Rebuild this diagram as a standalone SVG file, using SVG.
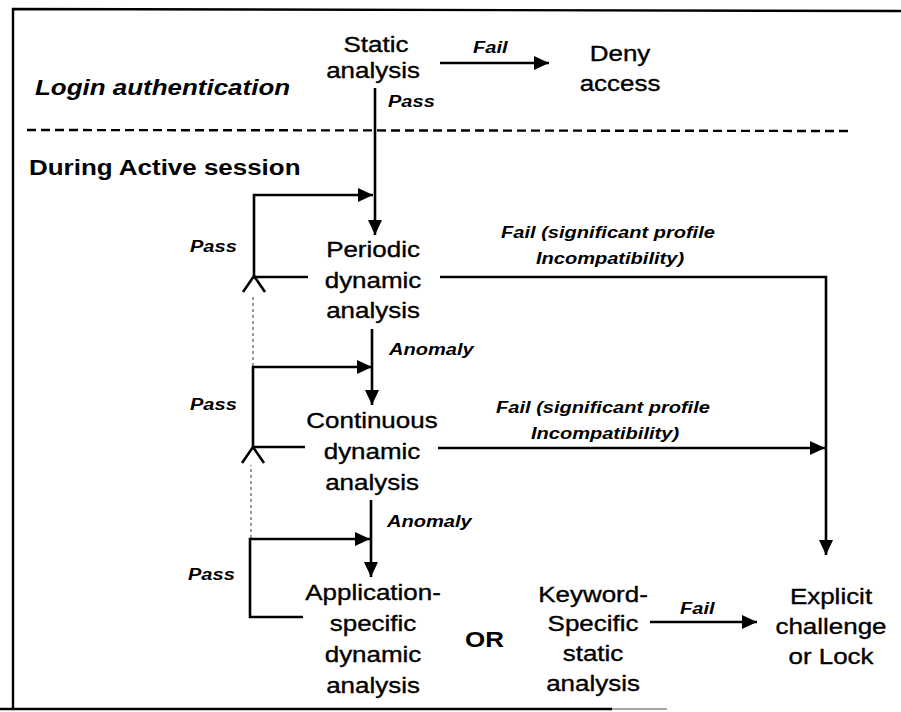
<svg xmlns="http://www.w3.org/2000/svg" width="901" height="712" viewBox="0 0 901 712">
  <style>
    .t { font-family: "Liberation Sans", Arial, sans-serif; fill: #000; }
    .node { font-size: 22px; text-anchor: middle; stroke: #000; stroke-width: 0.35; }
    .lbl { font-size: 17px; font-style: italic; font-weight: bold; }
    .head { font-size: 22px; font-weight: bold; }
    .wire { fill: none; stroke: #000; stroke-width: 2.6; }
    .faint { fill: none; stroke: #666; stroke-width: 1.3; stroke-dasharray: 3 3; }
    .frame { fill: none; stroke: #000; stroke-width: 2.4; }
  </style>
  <defs>
    <marker id="arrow" markerUnits="userSpaceOnUse" markerWidth="16" markerHeight="14" refX="15" refY="7" orient="auto">
      <path d="M0,0 L15,7 L0,14 z" fill="#000"/>
    </marker>
  </defs>
  <rect width="901" height="712" fill="#fff"/>

  <!-- outer frame (open on the right) -->
  <g id="frame">
    <path class="frame" d="M901,11 L13,9 V709"/>
    <path class="frame" d="M0,709 H612"/>
    <path d="M612,709 H667" stroke="#888" stroke-width="1.6"/>
  </g>

  <!-- section headings and separator -->
  <g id="sections">
    <text class="t head" font-style="italic" transform="matrix(1.18 0 0 1 35 95)">Login authentication</text>
    <line x1="27" y1="130" x2="853" y2="131" stroke="#000" stroke-width="2.4" stroke-dasharray="9 5"/>
    <text class="t head" font-size="22.5" transform="matrix(1.18 0 0 1 29 175)">During Active session</text>
  </g>

  <!-- nodes -->
  <g id="static-analysis">
    <text class="t node" transform="matrix(1.18 0 0 1 376 52)">Static</text>
    <text class="t node" transform="matrix(1.18 0 0 1 373 78)">analysis</text>
  </g>
  <g id="deny-access">
    <text class="t node" transform="matrix(1.18 0 0 1 620 61)">Deny</text>
    <text class="t node" transform="matrix(1.18 0 0 1 620 91)">access</text>
  </g>
  <g id="periodic-dynamic">
    <text class="t node" transform="matrix(1.18 0 0 1 373 257)">Periodic</text>
    <text class="t node" transform="matrix(1.18 0 0 1 373 288)">dynamic</text>
    <text class="t node" transform="matrix(1.18 0 0 1 373 318)">analysis</text>
  </g>
  <g id="continuous-dynamic">
    <text class="t node" transform="matrix(1.18 0 0 1 372 428)">Continuous</text>
    <text class="t node" transform="matrix(1.18 0 0 1 372 459)">dynamic</text>
    <text class="t node" transform="matrix(1.18 0 0 1 372 490)">analysis</text>
  </g>
  <g id="application-specific">
    <text class="t node" transform="matrix(1.18 0 0 1 373 600)">Application-</text>
    <text class="t node" transform="matrix(1.18 0 0 1 373 631)">specific</text>
    <text class="t node" transform="matrix(1.18 0 0 1 373 662)">dynamic</text>
    <text class="t node" transform="matrix(1.18 0 0 1 373 693)">analysis</text>
  </g>
  <g id="or-choice">
    <text class="t head" transform="matrix(1.18 0 0 1 465 647)">OR</text>
  </g>
  <g id="keyword-static">
    <text class="t node" transform="matrix(1.18 0 0 1 593 602)">Keyword-</text>
    <text class="t node" transform="matrix(1.18 0 0 1 593 631)">Specific</text>
    <text class="t node" transform="matrix(1.18 0 0 1 593 661)">static</text>
    <text class="t node" transform="matrix(1.18 0 0 1 593 691)">analysis</text>
  </g>
  <g id="explicit-challenge">
    <text class="t node" transform="matrix(1.18 0 0 1 831 604)">Explicit</text>
    <text class="t node" transform="matrix(1.18 0 0 1 831 634)">challenge</text>
    <text class="t node" transform="matrix(1.18 0 0 1 831 664)">or Lock</text>
  </g>

  <!-- connectors -->
  <g id="connectors">
    <path class="wire" d="M440,63 H549" marker-end="url(#arrow)"/>
    <path class="wire" d="M375,88 V235" marker-end="url(#arrow)"/>

    <!-- pass loop around periodic analysis -->
    <path class="wire" d="M308,277 H254 V195 H373" marker-end="url(#arrow)"/>
    <polyline class="wire" points="243,292 254,276 265,292"/>
    <path class="faint" d="M253,366 V294"/>

    <path class="wire" d="M372,329 V405" marker-end="url(#arrow)"/>

    <!-- pass loop around continuous analysis -->
    <path class="wire" d="M305,447 H253 V367 H372" marker-end="url(#arrow)"/>
    <polyline class="wire" points="242,463 253,447 264,463"/>
    <path class="faint" d="M251,538 V465"/>

    <path class="wire" d="M371,500 V577" marker-end="url(#arrow)"/>

    <!-- pass loop around application-specific analysis -->
    <path class="wire" d="M303,617 H250 V539 H370" marker-end="url(#arrow)"/>

    <!-- failure paths to explicit challenge -->
    <path class="wire" d="M440,277 H826 V555" marker-end="url(#arrow)"/>
    <path class="wire" d="M438,448 H825" marker-end="url(#arrow)"/>
    <path class="wire" d="M650,622 H757" marker-end="url(#arrow)"/>
  </g>

  <!-- connector labels -->
  <g id="edge-labels">
    <text class="t lbl" transform="matrix(1.18 0 0 1 473 53)">Fail</text>
    <text class="t lbl" transform="matrix(1.18 0 0 1 388 107)">Pass</text>
    <text class="t lbl" transform="matrix(1.18 0 0 1 190 252)">Pass</text>
    <text class="t lbl" text-anchor="middle" transform="matrix(1.18 0 0 1 608 238)">Fail (significant profile</text>
    <text class="t lbl" text-anchor="middle" transform="matrix(1.18 0 0 1 610 264)">Incompatibility)</text>
    <text class="t lbl" transform="matrix(1.18 0 0 1 389 355)">Anomaly</text>
    <text class="t lbl" transform="matrix(1.18 0 0 1 190 410)">Pass</text>
    <text class="t lbl" text-anchor="middle" transform="matrix(1.18 0 0 1 603 413)">Fail (significant profile</text>
    <text class="t lbl" text-anchor="middle" transform="matrix(1.18 0 0 1 605 439)">Incompatibility)</text>
    <text class="t lbl" transform="matrix(1.18 0 0 1 387 527)">Anomaly</text>
    <text class="t lbl" transform="matrix(1.18 0 0 1 188 580)">Pass</text>
    <text class="t lbl" transform="matrix(1.18 0 0 1 680 614)">Fail</text>
  </g>
</svg>
